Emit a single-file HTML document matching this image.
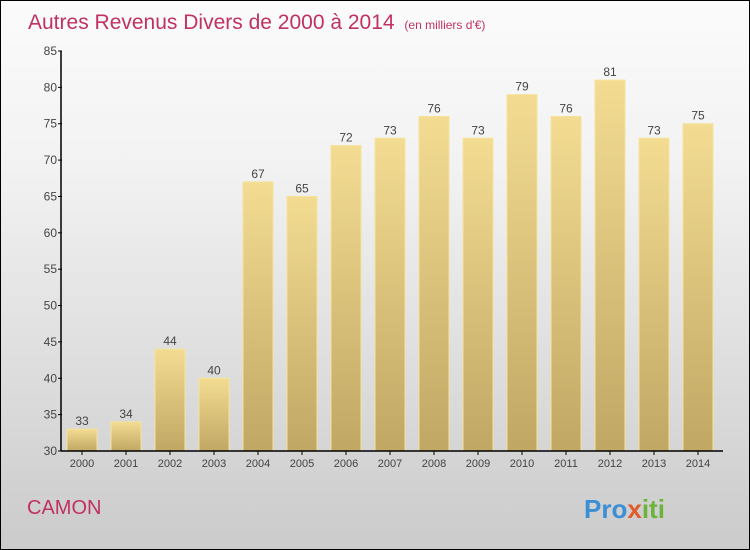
<!DOCTYPE html>
<html><head><meta charset="utf-8"><style>
body{margin:0}
#wrap{position:relative;width:748px;height:548px;border:1px solid #000;background:linear-gradient(#fbfbfb,#f2f2f2 30%,#d9d9d9 75%,#cbcbcb);font-family:"Liberation Sans",sans-serif;overflow:hidden}
</style></head><body>
<div id="wrap">
<svg id="c" width="748" height="548">
<defs><linearGradient id="g" x1="0" y1="0" x2="0" y2="1"><stop offset="0" stop-color="#f3dc92"/><stop offset="1" stop-color="#c0a764"/></linearGradient></defs>
<text x="27" y="28" font-size="21" fill="#c0325f">Autres Revenus Divers de 2000 à 2014 <tspan font-size="12" dx="4">(en milliers d'€)</tspan></text>
<text x="26" y="513" font-size="20" fill="#c0325f">CAMON</text>
<text x="583" y="517" font-size="26" font-weight="bold"><tspan fill="#3b8fd6">Pro</tspan><tspan fill="#e05a2b">x</tspan><tspan fill="#6bb33a">iti</tspan></text>
</svg>
</div>
<script>
const years=["2000","2001","2002","2003","2004","2005","2006","2007","2008","2009","2010","2011","2012","2013","2014"];
const values=[33,34,44,40,67,65,72,73,76,73,79,76,81,73,75];
const yTicks=[30,35,40,45,50,55,60,65,70,75,80,85];
const svg=document.getElementById('c');const NS='http://www.w3.org/2000/svg';
const y=v=>450-(v-30)*400/55;const x=i=>81+i*44;
function mk(t,a){const e=document.createElementNS(NS,t);for(const k in a)e.setAttribute(k,a[k]);svg.appendChild(e);return e;}
values.forEach((v,i)=>{
const r=mk('rect',{x:x(i)-15,y:y(v),width:30,height:450-y(v),fill:'url(#g)',stroke:'#f5e39c','stroke-width':1});


const t=mk('text',{x:x(i),y:y(v)-4,'font-size':12,'text-anchor':'middle',fill:'#444'});t.textContent=v;


const l=mk('text',{x:x(i),y:466,'font-size':11,'text-anchor':'middle',fill:'#444'});l.textContent=years[i];


mk('line',{x1:x(i),x2:x(i),y1:450,y2:454,stroke:'#000'});
});
yTicks.forEach(v=>{
mk('line',{x1:57,x2:61,y1:y(v),y2:y(v),stroke:'#000'});
const t=mk('text',{x:56,y:y(v)+4,'font-size':12,'text-anchor':'end',fill:'#444'});t.textContent=v;


});
const ya=mk('line',{x1:60,x2:60,y1:50,y2:450,stroke:'#000','stroke-width':1.5});


const xa=mk('line',{x1:60,x2:722,y1:450,y2:450,stroke:'#000','stroke-width':1.5});


</script>
</body></html>
